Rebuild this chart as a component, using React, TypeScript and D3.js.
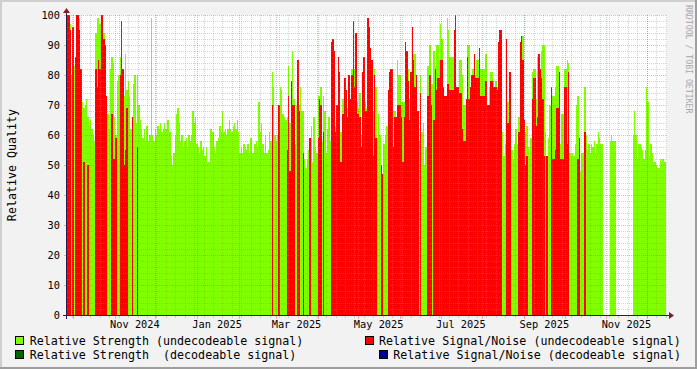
import React from "react";
import * as d3 from "d3";

// ---- time frame (one bar per day) ----
const START_MS = Date.UTC(2024, 8, 26, 14);
const DAY_MS = 86400000;
const END_MS = START_MS + 445.5 * DAY_MS;

// ---- series values (0 = no data that day) ----
const strengthUndecodeable: number[] = [
  95, 90, 97, 80, 83, 83, 70, 72, 71, 99,
  80, 71, 69, 70, 72, 66, 63, 65, 62, 60,
  58, 94, 99, 99, 97, 97, 96, 94, 85, 68,
  67, 62, 82, 86, 84, 66, 60, 78, 80, 86,
  88, 80, 73, 87, 75, 78, 73, 62, 62, 77,
  80, 64, 80, 70, 65, 62, 59, 62, 58, 63,
  58, 60, 99, 60, 58, 62, 60, 63, 62, 64,
  61, 62, 64, 62, 65, 65, 61, 53, 50, 54,
  60, 67, 69, 64, 58, 60, 56, 58, 59, 56,
  60, 58, 60, 68, 64, 66, 57, 56, 54, 58,
  55, 56, 53, 56, 51, 51, 62, 62, 61, 56,
  54, 58, 59, 63, 61, 68, 61, 62, 60, 62,
  65, 62, 61, 63, 64, 62, 65, 61, 54, 56,
  54, 57, 56, 55, 57, 54, 59, 54, 54, 57,
  58, 56, 71, 61, 64, 57, 54, 60, 54, 55,
  61, 58, 81, 76, 60, 58, 60, 62, 76, 75,
  67, 66, 65, 66, 83, 64, 76, 88, 72, 57,
  70, 70, 70, 76, 68, 68, 52, 49, 52, 55,
  52, 63, 51, 66, 56, 54, 73, 73, 76, 58,
  73, 68, 54, 62, 66, 58, 75, 70, 62, 63,
  60, 68, 61, 61, 72, 72, 66, 70, 69, 69,
  66, 82, 84, 82, 60, 71, 69, 74, 60, 64,
  66, 71, 69, 70, 72, 68, 59, 68, 82, 76,
  59, 67, 60, 50, 46, 57, 60, 63, 61, 78,
  76, 76, 68, 68, 60, 85, 80, 80, 71, 71,
  71, 82, 82, 82, 72, 72, 70, 87, 87, 80,
  58, 58, 80, 61, 64, 50, 56, 83, 83, 90,
  77, 77, 88, 83, 90, 90, 85, 97, 92, 61,
  59, 59, 99, 95, 86, 86, 86, 86, 80, 60,
  60, 85, 85, 80, 70, 70, 64, 90, 90, 70,
  72, 82, 82, 80, 85, 85, 53, 82, 82, 82,
  87, 87, 58, 76, 81, 81, 78, 57, 78, 76,
  76, 76, 60, 61, 53, 57, 58, 71, 59, 57,
  55, 52, 57, 62, 57, 66, 66, 66, 93, 61,
  61, 63, 56, 53, 59, 81, 82, 82, 72, 86,
  86, 80, 88, 90, 90, 61, 53, 59, 70, 76,
  73, 73, 76, 83, 83, 76, 57, 67, 67, 82,
  82, 85, 84, 54, 53, 54, 53, 57, 70, 73,
  59, 48, 54, 54, 76, 60, 55, 57, 54, 57,
  56, 58, 54, 57, 61, 59, 57, 57, 0, 0,
  0, 0, 0, 58, 60, 58, 58, 58, 0, 0,
  0, 0, 0, 0, 0, 0, 0, 0, 0, 0,
  60, 68, 60, 52, 57, 57, 56, 55, 52, 55,
  76, 71, 53, 57, 54, 51, 51, 50, 49, 49,
  52, 51, 52, 51, 51,
];

const snrUndecodeable: number[] = [
  100, 100, 95, 0, 96, 0, 86, 100, 100, 95,
  82, 0, 51, 0, 0, 50, 0, 0, 0, 0,
  0, 82, 76, 85, 82, 100, 100, 92, 90, 73,
  0, 0, 0, 67, 52, 52, 59, 0, 0, 80,
  98, 82, 50, 55, 69, 0, 0, 0, 66, 0,
  0, 0, 56, 0, 0, 0, 0, 0, 0, 0,
  0, 0, 0, 0, 0, 0, 0, 0, 0, 0,
  0, 0, 0, 0, 0, 0, 0, 0, 0, 0,
  0, 0, 0, 0, 0, 0, 0, 0, 0, 0,
  0, 0, 0, 0, 0, 0, 0, 0, 0, 0,
  0, 0, 0, 0, 0, 0, 0, 0, 0, 0,
  0, 0, 0, 0, 0, 0, 0, 0, 0, 0,
  0, 0, 0, 0, 0, 0, 0, 0, 0, 0,
  0, 0, 0, 0, 0, 0, 0, 0, 0, 0,
  0, 0, 0, 0, 0, 0, 0, 0, 0, 0,
  0, 0, 70, 0, 0, 0, 0, 70, 0, 0,
  0, 0, 0, 55, 73, 48, 78, 70, 70, 0,
  0, 85, 68, 0, 0, 54, 0, 0, 0, 0,
  59, 0, 0, 0, 0, 0, 59, 72, 70, 0,
  61, 0, 0, 0, 0, 0, 91, 92, 88, 61,
  70, 86, 81, 51, 67, 67, 79, 75, 66, 80,
  72, 80, 98, 76, 94, 67, 67, 66, 56, 81,
  86, 68, 68, 99, 96, 89, 85, 53, 80, 59,
  0, 0, 0, 50, 47, 0, 0, 0, 75, 81,
  82, 82, 56, 66, 66, 70, 70, 70, 66, 51,
  66, 91, 88, 78, 65, 81, 96, 85, 76, 80,
  68, 0, 74, 0, 0, 0, 0, 73, 73, 80,
  70, 0, 65, 82, 75, 79, 79, 85, 85, 76,
  73, 73, 77, 77, 75, 75, 75, 95, 100, 76,
  76, 74, 74, 62, 58, 58, 72, 86, 72, 76,
  80, 80, 87, 79, 79, 79, 89, 73, 73, 73,
  78, 78, 70, 70, 78, 78, 76, 76, 76, 75,
  91, 95, 95, 0, 0, 0, 92, 64, 81, 81,
  0, 0, 0, 0, 0, 61, 91, 93, 85, 65,
  50, 53, 0, 0, 0, 72, 79, 79, 63, 66,
  87, 82, 79, 72, 53, 0, 53, 0, 0, 76,
  52, 52, 55, 69, 69, 81, 52, 52, 52, 76,
  76, 57, 81, 0, 0, 0, 0, 0, 0, 52,
  59, 0, 0, 0, 61, 0, 0, 0, 0, 0,
  0, 0, 0, 0, 0, 0, 0, 0, 0, 0,
  0, 0, 0, 0, 0, 0, 0, 0, 0, 0,
  0, 0, 0, 0, 0, 0, 0, 0, 0, 0,
  0, 0, 0, 0, 0, 0, 0, 0, 0, 0,
  0, 0, 0, 0, 0, 0, 0, 0, 0, 0,
  0, 0, 0, 0, 0,
];

// decodeable series carry no data in this period
const strengthDecodeable: number[] = [];
const snrDecodeable: number[] = [];

// ---- axes ----
const yTickValues = [0, 10, 20, 30, 40, 50, 60, 70, 80, 90, 100];
const xTickMonths = ["2024-11-01", "2025-01-01", "2025-03-01", "2025-05-01", "2025-07-01", "2025-09-01", "2025-11-01"];
const xTickLabels = ["Nov 2024", "Jan 2025", "Mar 2025", "May 2025", "Jul 2025", "Sep 2025", "Nov 2025"];

// ---- legend ----
const legendLabels = [
  "Relative Strength (undecodeable signal)",
  "Relative Strength  (decodeable signal)",
  "Relative Signal/Noise (undecodeable signal)",
  "Relative Signal/Noise (decodeable signal)",
];
const legendColors = ["#80FF00", "#006400", "#FF0000", "#000090"];

const FONT = "'DejaVu Sans Mono', monospace";

export default function App() {
  const W = 697, H = 369;
  const X0 = 67, X1 = 667, Y0 = 315, Y1 = 15;

  const x = d3.scaleUtc().domain([new Date(START_MS), new Date(END_MS)]).range([X0, X1]);
  const y = d3.scaleLinear().domain([0, 100]).range([Y0, Y1]);

  const bars = (vals: number[], color: string, key: string) =>
    vals.map((v, i) => {
      if (!v) return null;
      const xa = Math.round(x(new Date(START_MS + i * DAY_MS)));
      const xb = Math.min(X1, Math.round(x(new Date(START_MS + (i + 1) * DAY_MS))));
      const yt = Math.round(y(v));
      return <rect key={key + i} x={xa} y={yt} width={Math.max(0, xb - xa)} height={Y0 - yt} fill={color} />;
    });

  const minorH = d3.range(2, 100, 2).filter((v) => v % 10 !== 0);
  const weeks = d3.utcMonday.range(new Date(START_MS), new Date(END_MS));
  const months = d3.utcMonth.range(new Date(START_MS), new Date(END_MS));

  const gridMinor = "rgba(143,143,143,0.38)";
  const gridMajor = "rgba(222,79,79,0.42)";
  const axisCol = "#20204a";
  const arrowCol = "#801F1F";

  const legendPos = [
    { bx: 15.5, by: 336.5, tx: 29.7, ty: 345 },
    { bx: 15.5, by: 350.5, tx: 29.7, ty: 359 },
    { bx: 365.5, by: 336.5, tx: 379, ty: 345 },
    { bx: 379.5, by: 350.5, tx: 393.3, ty: 359 },
  ];

  return (
    <>
      <style>{`html,body{margin:0;padding:0;overflow:hidden}`}</style>
      <svg width={W} height={H} viewBox={`0 0 ${W} ${H}`} style={{ display: "block" }} fontFamily={FONT}>
        <rect x={0} y={0} width={W} height={H} fill="#F2F2F2" />
        {/* frame shading */}
        <rect x={0} y={0} width={W} height={2} fill="#CFCFCF" />
        <rect x={0} y={0} width={2} height={H} fill="#CFCFCF" />
        <rect x={0} y={H - 2} width={W} height={2} fill="#9E9E9E" />
        <rect x={W - 2} y={0} width={2} height={H} fill="#9E9E9E" />

        {/* canvas */}
        <rect x={X0} y={Y1} width={X1 - X0} height={Y0 - Y1} fill="#FFFFFF" />

        {/* data */}
        <g shapeRendering="crispEdges">
          {bars(strengthUndecodeable, legendColors[0], "g")}
          {bars(strengthDecodeable, legendColors[1], "gd")}
          {bars(snrUndecodeable, legendColors[2], "r")}
          {bars(snrDecodeable, legendColors[3], "rd")}
        </g>

        {/* grid */}
        <g shapeRendering="crispEdges" strokeWidth={1} strokeDasharray="1,1">
          {minorH.map((v) => {
            const yy = Math.round(y(v)) + 0.5;
            return <line key={"mh" + v} x1={X0} x2={X1} y1={yy} y2={yy} stroke={gridMinor} />;
          })}
          {weeks.map((t, i) => {
            const xx = Math.round(x(t)) + 0.5;
            return <line key={"mv" + i} x1={xx} x2={xx} y1={Y1} y2={Y0} stroke={gridMinor} />;
          })}
          {yTickValues.map((v) => {
            const yy = Math.round(y(v)) + 0.5;
            return <line key={"Mh" + v} x1={X0} x2={X1} y1={yy} y2={yy} stroke={gridMajor} />;
          })}
          {months.map((t, i) => {
            const xx = Math.round(x(t)) + 0.5;
            return <line key={"Mv" + i} x1={xx} x2={xx} y1={Y1} y2={Y0} stroke={gridMajor} />;
          })}
        </g>
        {/* tick marks */}
        <g shapeRendering="crispEdges" strokeWidth={1}>
          {weeks.map((t, i) => {
            const xx = Math.round(x(t)) + 0.5;
            return <line key={"tw" + i} x1={xx} x2={xx} y1={Y0 + 1} y2={Y0 + 3} stroke={gridMinor} />;
          })}
          {months.map((t, i) => {
            const xx = Math.round(x(t)) + 0.5;
            return <line key={"tm" + i} x1={xx} x2={xx} y1={Y0 + 1} y2={Y0 + 4} stroke={gridMajor} />;
          })}
          {yTickValues.map((v) => {
            const yy = Math.round(y(v)) + 0.5;
            return <line key={"ty" + v} x1={X0 - 3} x2={X0} y1={yy} y2={yy} stroke={gridMajor} />;
          })}
        </g>

        {/* axes */}
        <g shapeRendering="crispEdges">
          <line x1={X0 - 4} x2={X1 + 4} y1={Y0 + 0.5} y2={Y0 + 0.5} stroke={axisCol} strokeWidth={1} />
          <line x1={X0 - 0.5} x2={X0 - 0.5} y1={Y0 + 4} y2={Y1 - 4} stroke={axisCol} strokeWidth={1} />
        </g>
        <polygon points={`${X1 + 2},${Y0 - 3} ${X1 + 2},${Y0 + 4} ${X1 + 7},${Y0 + 0.5}`} fill={arrowCol} />
        <polygon points={`${X0 - 4},${Y1 - 2} ${X0 + 3},${Y1 - 2} ${X0 - 0.5},${Y1 - 7}`} fill={arrowCol} />

        {/* y labels */}
        {yTickValues.map((v) => (
          <text key={"yl" + v} x={60} y={y(v) + 3.8} fontSize={10.3} textAnchor="end" fill="#000">
            {v}
          </text>
        ))}
        {/* x labels (centred mid-month) */}
        {xTickMonths.map((m, i) => {
          const t = new Date(m + "T00:00:00Z").getTime() + 15 * DAY_MS;
          return (
            <text key={"xl" + i} x={x(new Date(t))} y={327.5} fontSize={10.3} textAnchor="middle" fill="#000">
              {xTickLabels[i]}
            </text>
          );
        })}

        {/* y title */}
        <text transform="translate(15.5,165) rotate(-90)" fontSize={11.66} textAnchor="middle" fill="#000">
          Relative Quality
        </text>

        {/* signature */}
        <text transform="translate(685.5,5) rotate(90)" fontSize={8.2} textAnchor="start" fill="#A8A8A8">
          RRDTOOL / TOBI OETIKER
        </text>

        {/* legend */}
        {legendLabels.map((lab, i) => {
          const p = legendPos[i];
          return (
            <g key={"lg" + i}>
              <rect x={p.bx} y={p.by} width={8} height={8} fill={legendColors[i]} stroke="#000" strokeWidth={1} />
              <text x={p.tx} y={p.ty} fontSize={11.66} fill="#000" style={{ whiteSpace: "pre" }}>
                {lab}
              </text>
            </g>
          );
        })}
      </svg>
    </>
  );
}
